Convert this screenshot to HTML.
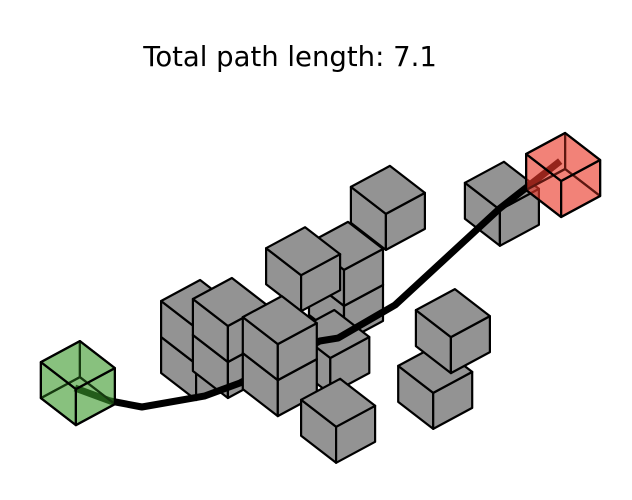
<!DOCTYPE html>
<html><head><meta charset="utf-8"><style>
html,body{margin:0;padding:0;background:#fff;}
svg{display:block;}
</style></head><body>
<svg id="chart" width="632" height="500" viewBox="0 0 632 500">
<text x="290" y="66" text-anchor="middle" font-family="DejaVu Sans, Liberation Sans, sans-serif" font-size="27.5" fill="#000">Total path length: 7.1</text>
<g id="scene"></g>
</svg>
<script>
// obstacle cubes (grid x, y, z), listed back to front
const obsX = [2.50, 1.25, 1.98, 1.98, 1.59, 1.51, 1.51, 1.84, 1.84, 3.74];
const obsY = [8.65, 6.85, 5.12, 5.12, 4.37, 1.75, 1.75, 2.27, 2.27, 3.19];
const obsZ = [0, 0, -1, 0, 0, -1, 0, -1, 0, 0];
// front obstacles drawn after the path
const frontX = [2.82, 2.82, 5.71, 4.70, 5.31];
const frontY = [2.67, 2.67, 4.06, 5.42, 1.93];
const frontZ = [-1, 0, 0, 0, 0];
// start and goal cubes
const startCube = [1.43, -1.26, 0];
const goalCube = [2.59, 10.14, 0];
// path waypoints
const pathX = [1.61, 2.31, 2.81, 3.31, 3.44, 3.46, 3.61, 3.56, 2.68, 2.36];
const pathY = [-0.55, -0.27, 0.09, 1.26, 2.04, 4.07, 4.40, 5.91, 9.39, 11.22];
const pathZ = [0, 0, 0, 0, 0, 0, 0, 0, 0, 0];

const O = [40, 333], A = [35, 27], B = [39, -21], C = [0, -36];
function proj(x, y, z) {
  return [O[0] + x*A[0] + y*B[0] + z*C[0], O[1] + x*A[1] + y*B[1] + z*C[1]];
}
const NS = 'http://www.w3.org/2000/svg';
const scene = document.getElementById('scene');
function pts(a) { return a.map(p => p[0].toFixed(1) + ',' + p[1].toFixed(1)).join(' '); }
function cube(x, y, z, fill, opacity, name) {
  const g = document.createElementNS(NS, 'g');
  
  
  const T = proj(x, y+1, z+1), L = proj(x, y, z+1), R = proj(x+1, y+1, z+1), F = proj(x+1, y, z+1);
  const Lb = proj(x, y, z), Fb = proj(x+1, y, z), Rb = proj(x+1, y+1, z), Bk = proj(x, y+1, z);
  let faces = [[L, F, Fb, Lb], [F, R, Rb, Fb], [T, R, F, L]];
  if (opacity < 1) {
    faces = [[T, L, Lb, Bk], [T, R, Rb, Bk], [Lb, Fb, Rb, Bk]].concat(faces);
  }
  faces.forEach(f => {
    const p = document.createElementNS(NS, 'polygon');
    p.setAttribute('points', pts(f));
    p.setAttribute('fill', fill);
    p.setAttribute('fill-opacity', opacity < 1 ? opacity * 0.6 : 1);
    p.setAttribute('stroke', '#000');
    p.setAttribute('stroke-width', '2.2');
    p.setAttribute('stroke-linejoin', 'round');
    g.appendChild(p);
  });
  scene.appendChild(g);
}
for (let i = 0; i < obsX.length; i++) cube(obsX[i], obsY[i], obsZ[i], '#939393', 1, 'obstacle-cube');
const path = document.createElementNS(NS, 'polyline');


path.setAttribute('points', pts(pathX.map((x, i) => proj(x, pathY[i], pathZ[i]))));
path.setAttribute('fill', 'none');
path.setAttribute('stroke', '#000');
path.setAttribute('stroke-width', '7');
path.setAttribute('stroke-linejoin', 'bevel');
scene.appendChild(path);
for (let i = 0; i < frontX.length; i++) cube(frontX[i], frontY[i], frontZ[i], '#939393', 1, 'obstacle-cube');
cube(startCube[0], startCube[1], startCube[2], '#3a9a2a', 0.62, 'start-cube');
cube(goalCube[0], goalCube[1], goalCube[2], '#ec3a2c', 0.66, 'goal-cube');
</script>
</body></html>
